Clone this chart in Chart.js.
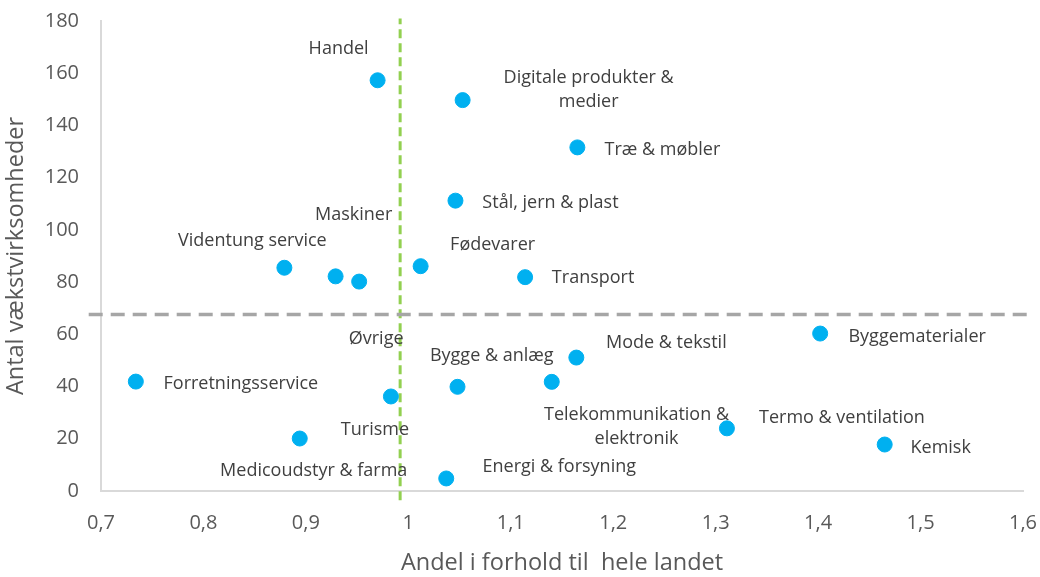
<!DOCTYPE html>
<html>
<head>
<meta charset="utf-8">
<script src="https://cdn.jsdelivr.net/npm/chart.js@4"></script>
<style>
  html, body { margin: 0; padding: 0; background: #ffffff; }
  #wrap { width: 1040px; height: 577px; }
</style>
</head>
<body>
<div id="wrap"><canvas id="c" width="1040" height="577"></canvas></div>
<script>
// ---- Data ----
const categories = [
  "Handel",
  "Digitale produkter &\nmedier",
  "Træ & møbler",
  "Stål, jern & plast",
  "Fødevarer",
  "Transport",
  "Videntung service",
  "Maskiner",
  "Øvrige",
  "Byggematerialer",
  "Mode & tekstil",
  "Bygge & anlæg",
  "Telekommunikation &\nelektronik",
  "Forretningsservice",
  "Turisme",
  "Termo & ventilation",
  "Kemisk",
  "Medicoudstyr & farma",
  "Energi & forsyning"
];
const andel = [0.970, 1.053, 1.165, 1.046, 1.012, 1.114, 0.879, 0.929, 0.952, 1.402, 1.164, 1.140, 1.048, 0.734, 0.983, 1.311, 1.465, 0.894, 1.037];
const antal = [157.3, 149.7, 131.6, 111.2, 86.1, 81.9, 85.5, 82.2, 80.2, 60.3, 51.1, 41.8, 39.9, 41.9, 36.2, 24.0, 17.8, 20.1, 4.8];

// reference lines (data units)
const refAndel = [0.992];
const refAntal = [67.6];

const xTitle = "Andel i forhold til  hele landet";
const yTitle = "Antal vækstvirksomheder";

// ---- Layout of the point labels (pixel offsets of the label centre from its point) ----
const labelOffsets = [
  [-39, -31], [126, -10], [85, 2], [95, 2], [72, -21], [68, 1], [-32, -27],
  [18, -61], [17, 57], [97, 3], [90, -15], [-60, -26], [179, 40], [105, 2],
  [-16, 33], [115, -10], [56, 3], [14, 32], [113, -12]
];

const points = andel.map((x, i) => ({ x: x, y: antal[i] }));

const fmt = v => String(Math.round(v * 10) / 10).replace('.', ',');

const labelPlugin = {
  id: 'pointLabels',
  afterDatasetsDraw(chart) {
    const ctx = chart.ctx;
    const meta = chart.getDatasetMeta(0);
    ctx.save();
    ctx.font = '18px "Open Sans"';
    ctx.fillStyle = '#404040';
    ctx.textAlign = 'center';
    ctx.textBaseline = 'middle';
    meta.data.forEach((el, i) => {
      const lines = categories[i].split('\n');
      const off = labelOffsets[i];
      const lh = 24;
      const cx = el.x + off[0];
      const cy = el.y + off[1];
      const startY = cy - (lines.length - 1) * lh / 2;
      lines.forEach((t, k) => ctx.fillText(t, cx, startY + k * lh));
    });
    ctx.restore();
  }
};

new Chart(document.getElementById('c'), {
  type: 'scatter',
  data: {
    datasets: [
      {
        label: 'Brancher',
        data: points,
        backgroundColor: '#00b0f0',
        borderColor: '#00b0f0',
        pointRadius: 7.5,
        pointHoverRadius: 7.5,
        order: 0
      },
      {
        label: 'Gennemsnit andel',
        data: [{ x: refAndel[0], y: -3.5 }, { x: refAndel[0], y: 181 }],
        showLine: true,
        borderColor: '#92d050',
        borderWidth: 3,
        borderDash: [9, 5],
        pointRadius: 0,
        clip: false,
        order: 2
      },
      {
        label: 'Gennemsnit antal',
        data: [{ x: 0.688, y: refAntal[0] }, { x: 1.604, y: refAntal[0] }],
        showLine: true,
        borderColor: '#a6a6a6',
        borderWidth: 3.5,
        borderDash: [14, 8],
        pointRadius: 0,
        clip: false,
        order: 1
      }
    ]
  },
  options: {
    responsive: false,
    animation: false,
    devicePixelRatio: 1,
    layout: { padding: { top: 21, right: 17, left: 0, bottom: 0 } },
    plugins: {
      legend: { display: false },
      tooltip: { enabled: false }
    },
    scales: {
      x: {
        type: 'linear',
        min: 0.7,
        max: 1.6,
        afterFit(s) { s.height = 86; s.paddingLeft = 0; s.paddingRight = 0; },
        ticks: {
          stepSize: 0.1,
          padding: 20,
          color: '#595959',
          font: { family: '"Open Sans"', size: 20 },
          callback: v => fmt(v)
        },
        grid: { display: false, drawTicks: false },
        border: { display: true, color: '#d9d9d9', width: 2 },
        title: {
          display: true,
          text: xTitle,
          color: '#595959',
          font: { family: '"Open Sans"', size: 23.5 },
          padding: { top: 0, bottom: 0 }
        }
      },
      y: {
        type: 'linear',
        min: 0,
        max: 180,
        afterFit(s) { s.width = 101; s.paddingTop = 0; s.paddingBottom = 0; },
        ticks: {
          stepSize: 20,
          padding: 22,
          color: '#595959',
          font: { family: '"Open Sans"', size: 20 }
        },
        grid: { display: false, drawTicks: false },
        border: { display: true, color: '#d9d9d9', width: 2 },
        title: {
          display: true,
          text: yTitle,
          color: '#595959',
          font: { family: '"Open Sans"', size: 23.5 },
          padding: { top: 2, bottom: 0 }
        }
      }
    }
  },
  plugins: [labelPlugin]
});
</script>
</body>
</html>
